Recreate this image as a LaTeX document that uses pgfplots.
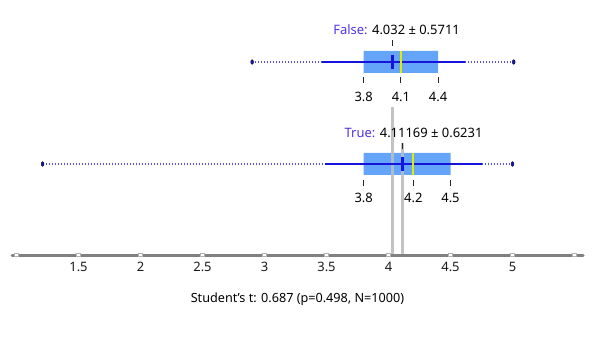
\documentclass[border=0pt]{standalone}
\usepackage{pgfplots}
\pgfplotsset{compat=1.18}
\usepackage{fontspec}
\setmainfont{Noto Sans}
\definecolor{boxblue}{RGB}{100,165,250}
\definecolor{blueline}{RGB}{20,20,220}
\definecolor{bluedot}{RGB}{80,80,235}
\definecolor{labblue}{RGB}{80,50,230}
\definecolor{medyellow}{RGB}{225,235,0}
\definecolor{axisgray}{RGB}{128,128,128}
\definecolor{vgray}{RGB}{195,195,195}
\begin{document}
\begin{tikzpicture}
\begin{axis}[
  width=571bp, height=255bp, scale only axis,
  xmin=0.9637, xmax=5.5685, ymin=0, ymax=255,
  clip=false,
  axis x line*=bottom, axis y line=none,
  x axis line style={draw=none},
  xtick={1.5,2,2.5,3,3.5,4,4.5,5},
  xticklabels={1.5,2,2.5,3,3.5,4,4.5,5},
  major tick length=0pt,
  xticklabel style={font=\fontsize{13}{15}\selectfont, yshift=-3.5bp, text=black!90},
  /pgf/number format/assume math mode=true,
]
% bounding box of the whole picture
\path (axis cs:0.8669,255) rectangle (axis cs:5.6491,-86);

% mean reference lines
\addplot[vgray, line width=2.5bp] coordinates {(4.032,0) (4.032,148)};
\addplot[vgray, line width=2.5bp] coordinates {(4.11169,0) (4.11169,112)};

% axis line with tick gaps
\addplot[axisgray, line width=3bp, line cap=round] coordinates {(0.9637,0) (5.5685,0)};
\addplot[only marks, mark=square*, mark size=1.4bp,
  mark options={fill=white, draw=axisgray!60, line width=0.4bp, xscale=1.5}]
  coordinates {(1,0) (1.5,0) (2,0) (2.5,0) (3,0) (3.5,0) (4,0) (4.5,0) (5,0) (5.5,0)};

% ---------- False ----------
\addplot[bluedot, dash pattern=on 1bp off 2bp, line width=1.3bp] coordinates {(2.90,193) (3.46,193)};
\addplot[bluedot, dash pattern=on 1bp off 2bp, line width=1.3bp] coordinates {(4.62,193) (5.01,193)};
\addplot[fill=boxblue, draw=none] coordinates {(3.8,182) (4.4,182) (4.4,204) (3.8,204) (3.8,182)};
\addplot[blueline, line width=2bp] coordinates {(3.46,193) (4.62,193)};
\addplot[medyellow, line width=2bp] coordinates {(4.1,182) (4.1,204)};
\addplot[blueline, line width=2.5bp] coordinates {(4.032,186) (4.032,200)};
\addplot[only marks, mark=*, mark size=2.3bp, mark options={fill=blueline, draw=none, xscale=0.6}]
  coordinates {(2.90,193) (5.01,193)};
\addplot[black!85, line width=0.9bp] coordinates {(3.8,172) (3.8,178)};
\addplot[black!85, line width=0.9bp] coordinates {(4.1,172) (4.1,178)};
\addplot[black!85, line width=0.9bp] coordinates {(4.4,172) (4.4,178)};
\addplot[black!85, line width=0.9bp] coordinates {(4.032,209) (4.032,215)};
\node[font=\fontsize{13}{15}\selectfont] at (axis cs:4.065,225) {\textcolor{labblue}{False:} 4.032 ± 0.5711};
\node[font=\fontsize{13}{15}\selectfont] at (axis cs:3.8,158) {3.8};
\node[font=\fontsize{13}{15}\selectfont] at (axis cs:4.1,158) {4.1};
\node[font=\fontsize{13}{15}\selectfont] at (axis cs:4.4,158) {4.4};

% ---------- True ----------
\addplot[bluedot, dash pattern=on 1bp off 2bp, line width=1.3bp] coordinates {(1.21,91) (3.49,91)};
\addplot[bluedot, dash pattern=on 1bp off 2bp, line width=1.3bp] coordinates {(4.75,91) (5.00,91)};
\addplot[fill=boxblue, draw=none] coordinates {(3.8,80) (4.5,80) (4.5,102) (3.8,102) (3.8,80)};
\addplot[vgray, line width=2.5bp, opacity=0.75] coordinates {(4.032,80) (4.032,102)};
\addplot[vgray, line width=2.5bp, opacity=0.75] coordinates {(4.11169,80) (4.11169,102)};
\addplot[blueline, line width=2bp] coordinates {(3.49,91) (4.75,91)};
\addplot[medyellow, line width=2bp] coordinates {(4.2,80) (4.2,102)};
\addplot[blueline, line width=2.5bp] coordinates {(4.11169,84) (4.11169,98)};
\addplot[only marks, mark=*, mark size=2.3bp, mark options={fill=blueline, draw=none, xscale=0.6}]
  coordinates {(1.21,91) (5.00,91)};
\addplot[black!85, line width=0.9bp] coordinates {(3.8,69) (3.8,75)};
\addplot[black!85, line width=0.9bp] coordinates {(4.2,69) (4.2,75)};
\addplot[black!85, line width=0.9bp] coordinates {(4.5,69) (4.5,75)};
\addplot[black!85, line width=0.9bp] coordinates {(4.11169,106) (4.11169,112)};
\node[font=\fontsize{13}{15}\selectfont] at (axis cs:4.202,122) {\textcolor{labblue}{True:} 4.11169 ± 0.6231};
\node[font=\fontsize{13}{15}\selectfont] at (axis cs:3.8,57) {3.8};
\node[font=\fontsize{13}{15}\selectfont] at (axis cs:4.2,57) {4.2};
\node[font=\fontsize{13}{15}\selectfont] at (axis cs:4.5,57) {4.5};

% bottom statistic
\node[font=\fontsize{12.7}{15}\selectfont] at (axis cs:3.266,-44) {Student's t: 0.687 (p=0.498, N=1000)};
\end{axis}
\end{tikzpicture}
\end{document}
